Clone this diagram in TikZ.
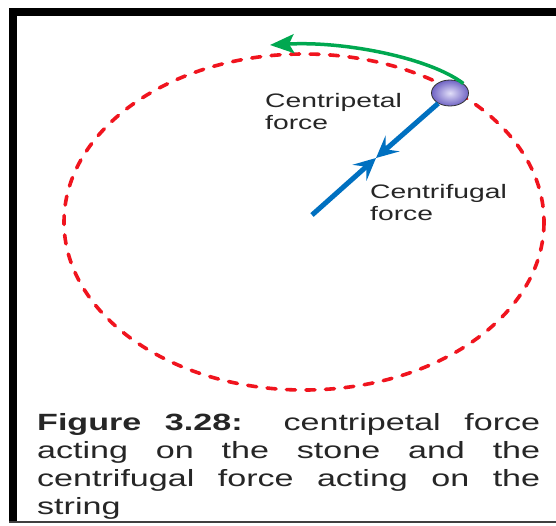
\documentclass[tikz,border=0pt]{standalone}
\usepackage{fontspec}
\setmainfont{Liberation Sans}
\newfontfamily\wide[FakeStretch=1.45]{Liberation Sans}
\usetikzlibrary{arrows.meta,shapes.geometric}
\definecolor{orbitred}{RGB}{240,20,30}
\definecolor{stringblue}{RGB}{0,112,192}
\definecolor{motiongreen}{RGB}{0,168,80}
\definecolor{stonefill}{RGB}{112,100,196}
\definecolor{stonelight}{RGB}{225,222,248}
\begin{document}
\begin{tikzpicture}[x=1pt,y=-1pt,
  orbit/.style={draw=orbitred, line width=3.6pt, dash pattern=on 9pt off 10.5pt, line cap=round},
  stone/.style={ellipse, minimum width=37pt, minimum height=26pt, inner sep=0pt,
    draw=black!80, line width=0.8pt, shade, inner color=stonelight, outer color=stonefill},
  stringline/.style={draw=stringblue, line width=5pt, -{Stealth[length=22pt,width=21pt,inset=9pt]}},
  motion/.style={draw=motiongreen, line width=3.5pt, -{Stealth[length=24pt,width=19pt,inset=5pt]}},
  lab/.style={font=\wide\fontsize{19.5}{22}\selectfont, align=left, inner sep=0pt, text=black!85},
  capt/.style={font=\wide\fontsize{23.5}{28}\selectfont, text width=503pt, align=justify, inner sep=0pt, text=black!85}]
\useasboundingbox (0,0) rectangle (556,525);
\fill[white] (0,0) rectangle (556,525);
% frame
\fill[black] (9,8) rectangle (17,523);
\fill[black] (9,8) rectangle (556,16);
\fill[black!75] (9,521) rectangle (556,523);
% orbit
\draw[orbit] (304,222) ellipse [x radius=240, y radius=168];
% stone and string
\node[stone] (stone) at (450,93) {};
\coordinate (mid) at (376,158);
\coordinate (hub) at (312,215);
\draw[stringline] (stone) -- (mid);
\draw[stringline] (hub) -- (mid);
% motion arrow
\coordinate (motiontip) at (270,45);
\draw[motion] (stone.north east) .. controls (430,58) and (345,41) .. (motiontip);
% labels (base = last line)
\node[lab, anchor=base west] (cp) at (265,129) {Centripetal\\force};
\node[lab, anchor=base west] (cf) at (370,220) {Centrifugal\\force};
% caption
\node[capt, anchor=base west] (cap) at (37,430) {\textbf{Figure 3.28:} centripetal force\linebreak acting on the stone and the\linebreak centrifugal force acting on the\linebreak string};
\end{tikzpicture}
\end{document}
